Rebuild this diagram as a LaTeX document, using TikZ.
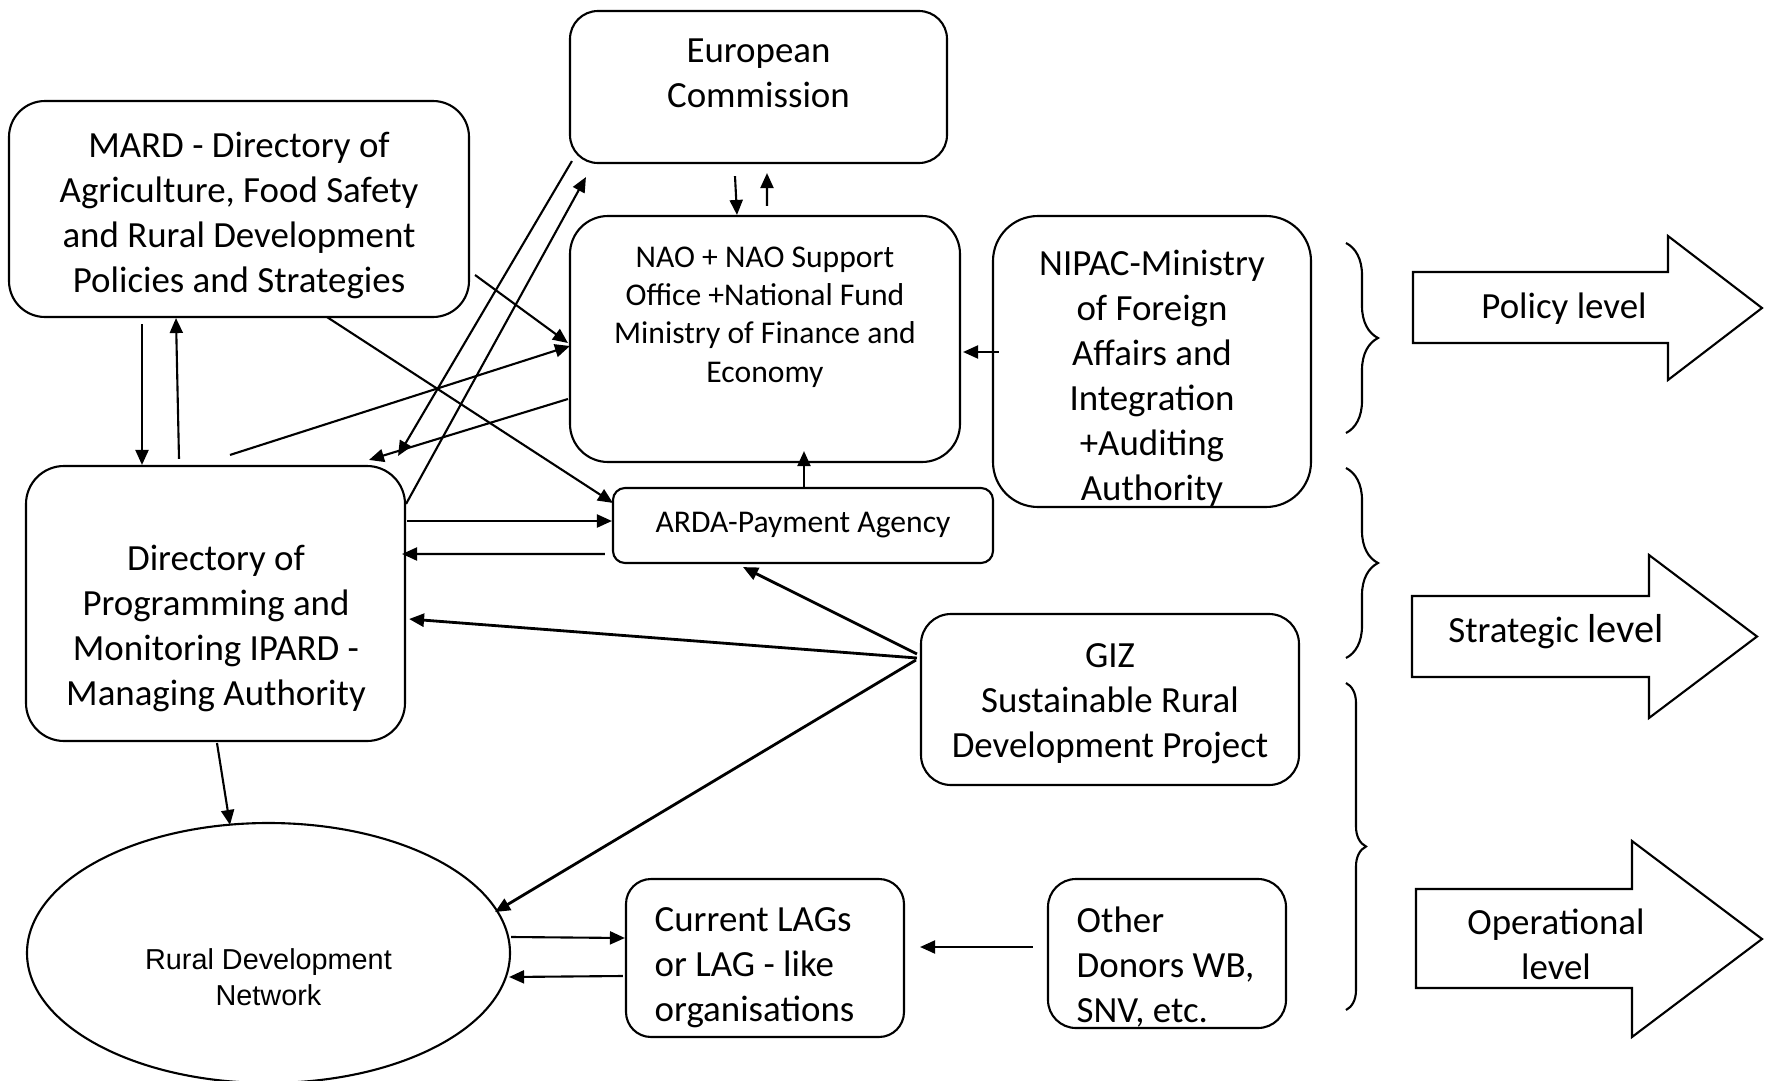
\documentclass[tikz,border=0pt]{standalone}
\usepackage{fontspec}
\setmainfont{Carlito}
\newfontfamily\arialfont{Liberation Sans}
\usetikzlibrary{arrows.meta,shapes.geometric,calc,decorations.pathreplacing}

\begin{document}
\begin{tikzpicture}[x=0.1mm,y=-0.1mm,
    box/.style={draw,rounded corners=#1,inner sep=0pt,line width=0.6pt},
    box/.default=3mm,
    txt/.style={align=center,inner sep=0pt,font=\fontsize{10.5}{12.8}\selectfont},
    smalltxt/.style={align=center,inner sep=0pt,font=\fontsize{9}{10.9}\selectfont},
    rdntxt/.style={align=center,inner sep=0pt,font=\arialfont\fontsize{8.2}{10.2}\selectfont},
    conn/.style={-{Triangle[length=1.5mm,width=1.3mm]},line width=0.6pt},
    thickconn/.style={conn,line width=0.8pt},
    lvlarrow/.style={draw,line width=0.6pt,line join=miter},
    lvlbrace/.style={decorate,decoration={brace,amplitude=#1},line width=0.6pt}]
    \useasboundingbox (0,0) rectangle (1767,1081);
    % boxes
    \node[box=2.8mm,minimum width=37.7mm,minimum height=15.2mm] (ec) at (758.5,87) {};
    \node[txt] (ectxt) at (758.5,73.5) {European\\Commission};
    \node[box=3.6mm,minimum width=46mm,minimum height=21.6mm] (mard) at (239,209) {};
    \node[txt] (mardtxt) at (239,215)
      {MARD - Directory of\\Agriculture, Food Safety\\and Rural Development\\Policies and Strategies};
    \node[box=3.8mm,minimum width=39mm,minimum height=24.6mm] (nao) at (765,339) {};
    \node[smalltxt] (naotxt) at (765,317)
      {NAO + NAO Support\\Office +National Fund\\Ministry of Finance and\\Economy};
    \node[box=4.5mm,minimum width=31.8mm,minimum height=29.1mm] (nipac) at (1152,361.5) {};
    \node[txt] (nipactxt) at (1152,378)
      {NIPAC-Ministry\\of Foreign\\Affairs and\\Integration\\+Auditing\\Authority};
    \node[box=1.2mm,minimum width=38mm,minimum height=7.5mm,smalltxt] (arda) at (803,525.5) {ARDA-Payment Agency};
    \node[box=3.8mm,minimum width=37.9mm,minimum height=27.5mm] (dir) at (215.5,603.5) {};
    \node[txt] (dirtxt) at (216,628)
      {Directory of\\Programming and\\Monitoring IPARD -\\Managing Authority};
    \node[box=3mm,minimum width=37.8mm,minimum height=17.1mm] (giz) at (1110,699.5) {};
    \node[txt] (giztxt) at (1110,704) {GIZ\\Sustainable Rural\\Development Project};
    \node[ellipse,draw,line width=0.6pt,minimum width=48.3mm,minimum height=26mm,inner sep=0pt] (rdn) at (268.5,953) {};
    \node[rdntxt] (rdnlbl) at (268.5,977) {Rural Development\\Network};
    \node[box=2.5mm,minimum width=27.8mm,minimum height=15.8mm] (lag) at (765,958) {};
    \node[txt,align=left,anchor=west] (lagtxt) at (654,968) {Current LAGs\\or LAG - like\\organisations};
    \node[box=2.8mm,minimum width=23.8mm,minimum height=14.9mm] (donor) at (1167,953.5) {};
    \node[txt,align=left,anchor=west] (donortxt) at (1076,967) {Other\\Donors WB,\\SNV, etc.};

    % levels
    \foreach \yt/\yb/\amp in {243/433/3.2mm,468/658/3.2mm,683/1010/2mm}
      \draw[lvlbrace=\amp] (1346,\yt) -- (1346,\yb);
    \foreach \xa/\yt/\yb/\xh/\ht/\hb/\xt in {1413/272/343/1668/236/380/1762,
                                            1412/596/677/1649/555/718/1757,
                                            1416/889/988/1632/841/1037/1762}
      \draw[lvlarrow] (\xa,\yt) -- (\xh,\yt) -- (\xh,\ht) -- (\xt,{(\ht+\hb)/2})
        -- (\xh,\hb) -- (\xh,\yb) -- (\xa,\yb) -- cycle;
    \node[txt] (policy) at (1564,309) {Policy level};
    \node[txt] (strategic) at (1556,632) {Strategic {\fontsize{11.5}{12.8}\selectfont level}};
    \node[txt] (operational) at (1556,944.5) {Operational\\level};

    % connectors
    \draw[conn] ($(mard.south)+(-97,6)$) -- ($(dir.north)+(-73.5,0)$);
    \draw[conn] ($(dir.north)+(-36.5,-6)$) -- ($(mard.south)+(-63,0)$);
    \draw[conn] ($(mard.east)+(5,66)$) -- ($(nao.west)+(-1,4)$);
    \draw[conn] ($(mard.south)+(88,-1)$) -- ($(arda.north west)+(1,16)$);
    \draw[conn] ($(ec.south west)+(3,-3)$) -- ($(dir.north east)+(-8,-9)$);
    \draw[conn] ($(dir.north east)+(0,39)$) -- ($(ec.south west)+(17,13)$);
    \draw[conn] ($(dir.north)+(14.5,-10)$) -- ($(nao.west)+(1,7)$);
    \draw[conn] ($(nao.west)+(-1,60)$) -- ($(dir.north)+(153.5,-5)$);
    \draw[conn] ($(ec.south)+(-23.5,12)$) -- ($(nao.north)+(-28,0)$);
    \draw[conn] ($(nao.north)+(2,-9)$) -- ($(ec.south)+(8.5,9)$);
    \draw[conn] ($(nipac.west)+(7,-9.5)$) -- ($(nao.east)+(2,13)$);
    \draw[conn] ($(arda.north)+(1,0)$) -- ($(nao.south)+(39,-12)$);
    \draw[conn] ($(dir.east)+(1,-82.5)$) -- ($(arda.west)+(0,-4.5)$);
    \draw[conn] ($(arda.west)+(-7,28.5)$) -- ($(dir.east)+(-4,-49.5)$);
    \draw[thickconn] ($(giz.west)+(-3,-45.5)$) -- ($(arda.south)+(-60,3)$);
    \draw[thickconn] ($(giz.west)+(-3,-41.5)$) -- ($(dir.east)+(3,15.5)$);
    \draw[thickconn] ($(giz.west)+(-4,-39.5)$) -- ($(rdn.east)+(-16,-41)$);
    \draw[conn] ($(dir.south)+(1.5,1)$) -- ($(rdn.north)+(-38.5,3)$);
    \draw[conn] ($(rdn.east)+(0,-16)$) -- ($(lag.west)+(0,-20)$);
    \draw[conn] ($(lag.west)+(-2,18)$) -- ($(rdn.east)+(-2,24)$);
    \draw[conn] ($(donor.west)+(-14,-6.5)$) -- ($(lag.east)+(15,-11)$);
  \end{tikzpicture}
\end{document}
